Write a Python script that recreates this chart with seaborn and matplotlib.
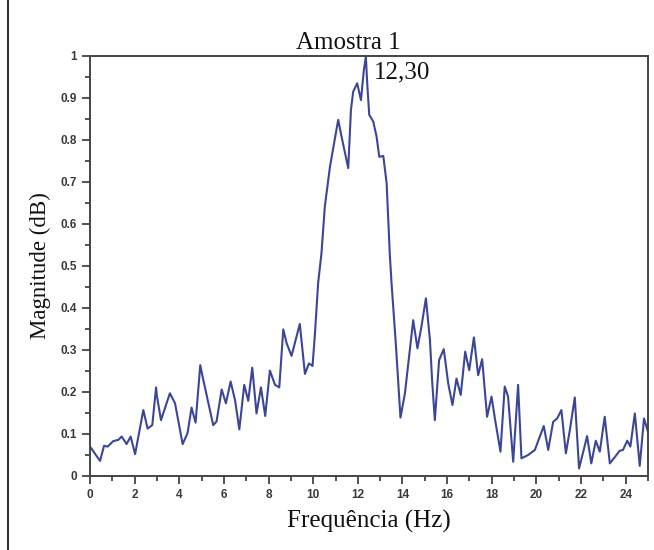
import matplotlib
matplotlib.use("Agg")
import matplotlib.pyplot as plt
import seaborn as sns
import pandas as pd
from matplotlib.lines import Line2D
from matplotlib.ticker import MultipleLocator

freq = [0.0, 0.45, 0.63, 0.79, 1.04, 1.27, 1.42, 1.64, 1.82, 2.02, 2.39, 2.58, 2.79, 2.96, 3.0,
        3.18, 3.58, 3.81, 4.15, 4.37, 4.55, 4.73, 4.94, 5.03, 5.52, 5.67, 5.9, 6.09, 6.3, 6.5,
        6.69, 6.91, 7.09, 7.27, 7.46, 7.66, 7.85, 8.06, 8.29, 8.48, 8.66, 8.81, 9.03, 9.40, 9.63,
        9.81, 9.97, 10.08, 10.22, 10.37, 10.52, 10.75, 11.12, 11.27, 11.57, 11.69, 11.79, 11.97,
        12.14, 12.27, 12.36, 12.42, 12.51, 12.69, 12.84, 12.96, 13.14, 13.29, 13.43, 13.51, 13.7,
        13.91, 14.11, 14.48, 14.67, 14.85, 15.05, 15.23, 15.33, 15.45, 15.64, 15.85, 16.05, 16.24,
        16.42, 16.61, 16.81, 16.99, 17.2, 17.39, 17.57, 17.79, 17.99, 18.14, 18.39, 18.58, 18.73,
        18.96, 19.18, 19.33, 19.63, 19.93, 20.33, 20.53, 20.75, 20.93, 21.12, 21.32, 21.5, 21.72,
        21.91, 22.12, 22.27, 22.46, 22.66, 22.84, 23.06, 23.29, 23.47, 23.73, 23.88, 24.07, 24.21,
        24.41, 24.48, 24.63, 24.82, 25.0]
magnitude = [0.07, 0.036, 0.072, 0.07, 0.083, 0.086, 0.094, 0.076, 0.094, 0.052, 0.157, 0.113, 0.121, 0.211, 0.19,
             0.133, 0.197, 0.173, 0.076, 0.102, 0.163, 0.127, 0.264, 0.24, 0.121, 0.13, 0.206, 0.173, 0.225, 0.18,
             0.111, 0.217, 0.179, 0.258, 0.149, 0.211, 0.143, 0.251, 0.217, 0.211, 0.349, 0.316, 0.286, 0.362, 0.243,
             0.268, 0.262, 0.34, 0.459, 0.53, 0.641, 0.736, 0.848, 0.808, 0.733, 0.871, 0.915, 0.935,
             0.895, 0.967, 0.998, 0.935, 0.86, 0.844, 0.808, 0.76, 0.762, 0.697, 0.53, 0.459, 0.316,
             0.139, 0.197, 0.371, 0.304, 0.356, 0.423, 0.324, 0.225, 0.133, 0.276, 0.302, 0.22, 0.169,
             0.232, 0.193, 0.296, 0.252, 0.33, 0.24, 0.278, 0.141, 0.189, 0.137, 0.058, 0.213, 0.189,
             0.034, 0.217, 0.042, 0.05, 0.062, 0.119, 0.062, 0.129, 0.137, 0.157, 0.054, 0.11, 0.187,
             0.018, 0.062, 0.095, 0.03, 0.084, 0.058, 0.141, 0.03, 0.042, 0.06, 0.062, 0.084, 0.07,
             0.149, 0.11, 0.024, 0.137, 0.105]

title = "Amostra 1"
peak_label = "12,30"
x_label = "Frequência (Hz)"
y_label = "Magnitude (dB)"
x_ticks = list(range(0, 25, 2))
y_ticks = [0, 0.1, 0.2, 0.3, 0.4, 0.5, 0.6, 0.7, 0.8, 0.9, 1]
y_tick_labels = ["0", "0.1", "0.2", "0.3", "0.4", "0.5", "0.6", "0.7", "0.8", "0.9", "1"]

sns.set_style("white")
plt.rcParams['font.family'] = ['Liberation Serif', 'DejaVu Serif']

fig = plt.figure(figsize=(6.54, 5.5), dpi=100)
ax = fig.add_axes([90/654, 1-476/550, (648-90)/654, (476-56)/550])

df = pd.DataFrame({"freq": freq, "mag": magnitude})
sns.lineplot(data=df, x="freq", y="mag", ax=ax, color="#3b4796", linewidth=1.5, sort=False)

ax.set_xlim(0, 25)
ax.set_ylim(0, 1)
ax.set_xticks(x_ticks)
ax.set_xticklabels([str(t) for t in x_ticks])
ax.set_yticks(y_ticks)
ax.set_yticklabels(y_tick_labels)
ax.xaxis.set_minor_locator(MultipleLocator(1))
ax.yaxis.set_minor_locator(MultipleLocator(0.05))
ax.tick_params(which="both", direction="out", color="#444444", width=1.3,
               bottom=True, left=True, top=False, right=False)
ax.tick_params(which="major", length=6)
ax.tick_params(which="minor", length=3.5)
for lab in ax.get_xticklabels() + ax.get_yticklabels():
    lab.set_family(['Liberation Sans', 'DejaVu Sans'])
    lab.set_fontsize(8.5)
    lab.set_color("#3a3a3a")
    lab.set_fontweight("bold")
for s in ax.spines.values():
    s.set_color("#444444")
    s.set_linewidth(1.4)

ax.set_xlabel(x_label, fontsize=18, color="#111111", labelpad=6)
ax.set_ylabel(y_label, fontsize=16.5, color="#111111", labelpad=7)
fig.text(348/654, 1-49/550, title, fontsize=18, ha="center", va="baseline", color="#111111")
ax.text(12.72, 0.962, peak_label, fontsize=18, ha="left", va="center", color="#111111")

fig.add_artist(Line2D([8/654, 8/654], [0, 1], transform=fig.transFigure, color="#333333", linewidth=1.5))

fig.savefig("out.png", dpi=100)
